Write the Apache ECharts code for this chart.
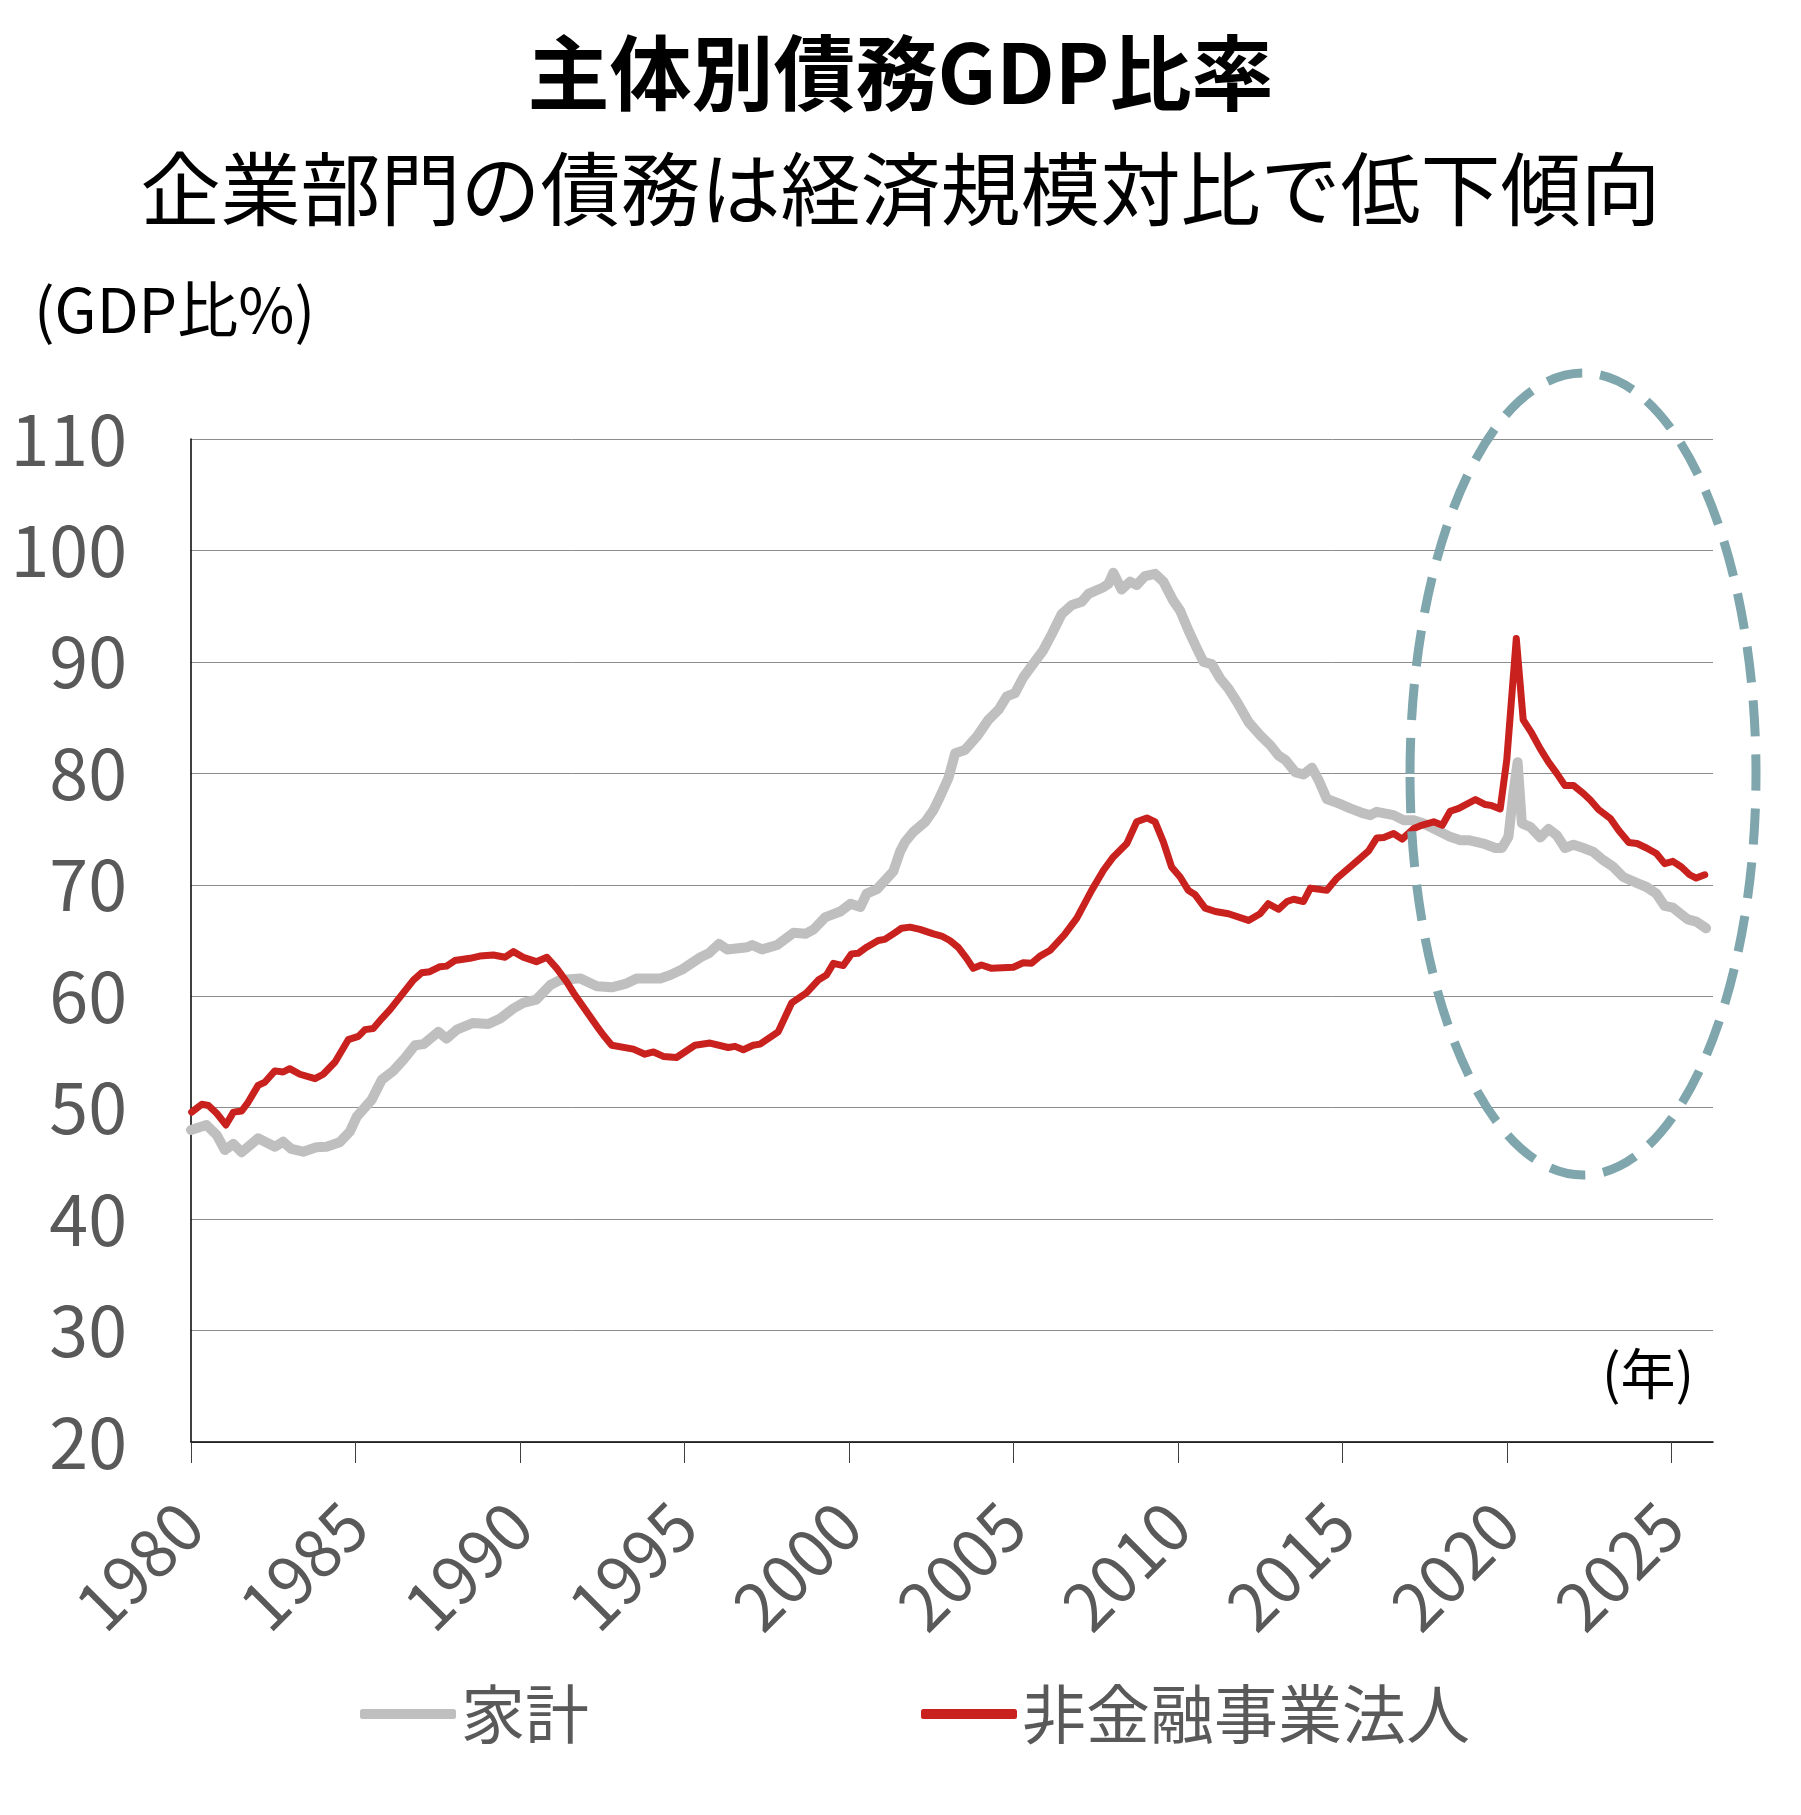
<!DOCTYPE html>
<html lang="ja">
<head>
<meta charset="utf-8">
<title>主体別債務GDP比率</title>
<script src="https://cdn.jsdelivr.net/npm/echarts@6/dist/echarts.min.js"></script>
<style>
  html, body { margin: 0; padding: 0; background: #fff; }
  #chart { width: 1801px; height: 1815px; }
</style>
</head>
<body>
<div id="chart"></div>
<script>
// ============================================
// データ（図から読み取った値、GDP比%）
// ============================================
const yearTicks = [1980, 1985, 1990, 1995, 2000, 2005, 2010, 2015, 2020, 2025]

// 家計
const householdX = [
  1980.00, 1980.47, 1980.78, 1981.03, 1981.29, 1981.54, 1982.04, 1982.55, 1982.80, 1983.05,
  1983.41, 1983.81, 1984.12, 1984.52, 1984.83, 1985.04, 1985.49, 1985.80, 1986.15, 1986.46,
  1986.81, 1987.07, 1987.52, 1987.77, 1988.08, 1988.58, 1989.04, 1989.40, 1989.80, 1990.10,
  1990.50, 1990.92, 1991.22, 1991.83, 1992.34, 1992.79, 1993.20, 1993.56, 1994.27, 1994.57,
  1994.93, 1995.49, 1995.74, 1996.05, 1996.30, 1996.91, 1997.06, 1997.36, 1997.82, 1998.32,
  1998.68, 1998.93, 1999.29, 1999.74, 2000.05, 2000.35, 2000.54, 2000.85, 2001.35, 2001.56,
  2001.71, 2001.96, 2002.32, 2002.57, 2002.77, 2003.03, 2003.23, 2003.53, 2003.89, 2004.24,
  2004.55, 2004.80, 2005.05, 2005.30, 2005.61, 2005.91, 2006.17, 2006.47, 2006.78, 2007.08,
  2007.28, 2007.74, 2007.89, 2008.04, 2008.29, 2008.55, 2008.75, 2009.00, 2009.31, 2009.56,
  2009.86, 2010.07, 2010.32, 2010.58, 2010.78, 2011.03, 2011.29, 2011.54, 2011.80, 2012.15,
  2012.51, 2012.82, 2013.06, 2013.27, 2013.57, 2013.82, 2014.08, 2014.28, 2014.53, 2014.89,
  2015.24, 2015.65, 2015.85, 2016.05, 2016.56, 2016.86, 2017.17, 2017.47, 2017.88, 2018.28,
  2018.59, 2018.84, 2019.29, 2019.65, 2019.85, 2020.05, 2020.20, 2020.33, 2020.46, 2020.71,
  2021.02, 2021.27, 2021.52, 2021.77, 2022.03, 2022.33, 2022.63, 2022.94, 2023.24, 2023.54,
  2024.00, 2024.25, 2024.55, 2024.80, 2025.05, 2025.50, 2025.76, 2026.06
]
const householdY = [
  48.0, 48.45, 47.55, 46.2, 46.75, 46.0, 47.25, 46.5, 46.95, 46.3,
  46.05, 46.45, 46.5, 46.9, 47.85, 49.2, 50.7, 52.5, 53.3, 54.3,
  55.6, 55.7, 56.8, 56.2, 57.0, 57.6, 57.5, 58.0, 58.9, 59.4,
  59.7, 61.0, 61.45, 61.6, 60.9, 60.8, 61.1, 61.6, 61.6, 61.9,
  62.4, 63.5, 63.85, 64.7, 64.2, 64.4, 64.6, 64.2, 64.6, 65.7,
  65.6, 66.0, 67.1, 67.6, 68.3, 68.0, 69.2, 69.6, 71.2, 73.0,
  73.85, 74.75, 75.65, 76.7, 77.9, 79.6, 81.8, 82.1, 83.3, 84.8,
  85.7, 86.9, 87.2, 88.6, 89.85, 91.05, 92.5, 94.3, 95.1, 95.4,
  96.1, 96.7, 97.0, 98.0, 96.5, 97.2, 96.9, 97.7, 97.9, 97.2,
  95.5, 94.6, 92.85, 91.2, 90.0, 89.8, 88.5, 87.6, 86.4, 84.6,
  83.4, 82.5, 81.6, 81.2, 80.1, 79.9, 80.5, 79.4, 77.7, 77.3,
  76.85, 76.4, 76.25, 76.55, 76.25, 75.8, 75.8, 75.5, 74.9, 74.3,
  74.0, 74.0, 73.7, 73.3, 73.3, 74.3, 78.2, 81.0, 75.5, 75.2,
  74.25, 75.0, 74.45, 73.3, 73.6, 73.3, 72.95, 72.2, 71.6, 70.7,
  70.1, 69.8, 69.2, 68.1, 67.95, 66.9, 66.7, 66.1
]

// 非金融事業法人
const corporateX = [
  1980.02, 1980.33, 1980.53, 1980.78, 1981.06, 1981.29, 1981.54, 1981.74, 1982.04, 1982.25,
  1982.55, 1982.80, 1983.00, 1983.31, 1983.77, 1984.02, 1984.38, 1984.78, 1985.09, 1985.29,
  1985.54, 1985.80, 1986.05, 1986.40, 1986.76, 1987.01, 1987.26, 1987.57, 1987.77, 1988.02,
  1988.48, 1988.78, 1989.19, 1989.55, 1989.80, 1990.10, 1990.50, 1990.82, 1991.12, 1991.42,
  1991.63, 1992.03, 1992.34, 1992.54, 1992.79, 1993.45, 1993.80, 1994.06, 1994.36, 1994.76,
  1995.32, 1995.78, 1996.33, 1996.54, 1996.79, 1997.09, 1997.30, 1997.85, 1998.26, 1998.71,
  1999.07, 1999.32, 1999.53, 1999.83, 2000.08, 2000.28, 2000.54, 2000.89, 2001.09, 2001.35,
  2001.60, 2001.86, 2002.16, 2002.57, 2002.82, 2003.07, 2003.32, 2003.58, 2003.78, 2004.03,
  2004.34, 2005.00, 2005.30, 2005.55, 2005.81, 2006.11, 2006.55, 2006.93, 2007.38, 2007.74,
  2008.04, 2008.45, 2008.75, 2009.06, 2009.31, 2009.56, 2009.81, 2010.07, 2010.32, 2010.53,
  2010.83, 2011.14, 2011.54, 2012.15, 2012.50, 2012.75, 2013.06, 2013.32, 2013.52, 2013.82,
  2014.03, 2014.53, 2014.84, 2015.24, 2015.55, 2015.80, 2016.05, 2016.26, 2016.56, 2016.82,
  2017.17, 2017.38, 2017.78, 2018.04, 2018.28, 2018.54, 2019.05, 2019.35, 2019.55, 2019.80,
  2020.00, 2020.29, 2020.50, 2020.76, 2021.02, 2021.27, 2021.52, 2021.77, 2022.03, 2022.33,
  2022.54, 2022.79, 2023.15, 2023.40, 2023.71, 2023.96, 2024.25, 2024.55, 2024.80, 2025.05,
  2025.31, 2025.56, 2025.76, 2026.02
]
const corporateY = [
  49.6, 50.3, 50.2, 49.5, 48.45, 49.6, 49.7, 50.5, 52.0, 52.3,
  53.3, 53.2, 53.5, 53.0, 52.6, 53.0, 54.1, 56.1, 56.4, 57.0,
  57.1, 58.0, 58.8, 60.1, 61.45, 62.1, 62.2, 62.65, 62.7, 63.2,
  63.4, 63.6, 63.7, 63.5, 64.0, 63.5, 63.1, 63.5, 62.5, 61.3,
  60.3, 58.6, 57.3, 56.5, 55.6, 55.25, 54.8, 55.0, 54.6, 54.5,
  55.6, 55.8, 55.4, 55.5, 55.2, 55.6, 55.7, 56.8, 59.4, 60.3,
  61.45, 61.9, 62.95, 62.75, 63.8, 63.85, 64.4, 65.0, 65.1, 65.6,
  66.1, 66.2, 66.0, 65.6, 65.4, 65.0, 64.4, 63.4, 62.5, 62.8,
  62.5, 62.6, 63.0, 62.95, 63.6, 64.1, 65.5, 67.0, 69.5, 71.3,
  72.5, 73.7, 75.65, 76.0, 75.65, 73.85, 71.6, 70.7, 69.5, 69.1,
  67.9, 67.6, 67.4, 66.8, 67.4, 68.3, 67.8, 68.5, 68.7, 68.5,
  69.7, 69.5, 70.6, 71.6, 72.4, 73.05, 74.2, 74.25, 74.6, 74.1,
  75.05, 75.3, 75.65, 75.35, 76.6, 76.85, 77.65, 77.2, 77.1, 76.8,
  81.2, 92.1, 84.8, 83.6, 82.2, 81.0, 80.0, 78.9, 78.9, 78.2,
  77.6, 76.75, 75.95, 74.9, 73.8, 73.7, 73.3, 72.8, 71.9, 72.1,
  71.6, 70.9, 70.6, 70.9
]

// ============================================
// 配色・フォント
// ============================================
const colorTheme = {
  household: '#bfbfbf',
  corporate: '#c9211e',
  axisText: '#595959',
  split: '#8c8c8c',
  axis: '#000000',
  ellipse: '#7ea6ac'
}
const fontJP = '"Noto Sans CJK JP", "Noto Sans", sans-serif'

const zip = (xs, ys) => xs.map((x, i) => [x, ys[i]])

// ============================================
// 描画
// ============================================
const chart = echarts.init(document.getElementById('chart'), null, { renderer: 'canvas' })

chart.setOption({
  backgroundColor: '#ffffff',
  animation: false,
  textStyle: { fontFamily: fontJP },
  title: [
    {
      text: '主体別債務GDP比率',
      left: 'center',
      top: 27,
      textStyle: { fontFamily: fontJP, fontSize: 82, fontWeight: 'bold', color: '#000' }
    },
    {
      text: '企業部門の債務は経済規模対比で低下傾向',
      left: 'center',
      top: 144,
      textStyle: { fontFamily: fontJP, fontSize: 80, fontWeight: 'normal', color: '#000' }
    }
  ],
  graphic: [
    {
      type: 'text',
      left: 34,
      top: 279,
      style: { text: '(GDP比%)', font: '61px ' + fontJP, fill: '#000' }
    },
    {
      type: 'text',
      left: 1602,
      top: 1346,
      style: { text: '(年)', font: '55px ' + fontJP, fill: '#000' }
    },
    {
      type: 'ellipse',
      z: 100,
      shape: { cx: 1583, cy: 774, rx: 173, ry: 401 },
      style: {
        fill: null,
        stroke: colorTheme.ellipse,
        lineWidth: 9,
        lineDash: [36, 18]
      }
    }
  ],
  legend: {
    left: 355,
    top: 1677,
    itemGap: 332,
    itemWidth: 96,
    itemHeight: 10,
    icon: 'roundRect',
    textStyle: { fontFamily: fontJP, fontSize: 64, color: colorTheme.axisText },
    data: ['家計', '非金融事業法人']
  },
  grid: {
    left: 191,
    right: 88,
    top: 439,
    bottom: 373,
    containLabel: false
  },
  xAxis: {
    type: 'value',
    min: 1980,
    max: 2026.27,
    interval: 5,
    axisLine: { show: true, lineStyle: { color: colorTheme.axis, width: 1.5 } },
    axisTick: {
      show: true,
      length: 21,
      customValues: yearTicks,
      lineStyle: { color: '#404040', width: 1 }
    },
    axisLabel: {
      customValues: yearTicks,
      rotate: 45,
      margin: 72,
      fontSize: 66,
      color: colorTheme.axisText,
      fontFamily: fontJP,
      formatter: v => String(Math.round(v))
    },
    splitLine: { show: false }
  },
  yAxis: {
    type: 'value',
    min: 20,
    max: 110,
    interval: 10,
    axisLine: { show: true, lineStyle: { color: colorTheme.axis, width: 1.5 } },
    axisTick: { show: false },
    axisLabel: {
      margin: 64,
      fontSize: 70,
      color: colorTheme.axisText,
      fontFamily: fontJP
    },
    splitLine: { show: true, lineStyle: { color: colorTheme.split, width: 1 } }
  },
  series: [
    {
      name: '家計',
      type: 'line',
      showSymbol: false,
      symbol: 'none',
      itemStyle: { color: colorTheme.household },
      lineStyle: { color: colorTheme.household, width: 10, cap: 'round', join: 'round' },
      data: zip(householdX, householdY)
    },
    {
      name: '非金融事業法人',
      type: 'line',
      showSymbol: false,
      symbol: 'none',
      itemStyle: { color: colorTheme.corporate },
      lineStyle: { color: colorTheme.corporate, width: 7, cap: 'round', join: 'round' },
      data: zip(corporateX, corporateY)
    }
  ]
})
</script>
</body>
</html>
